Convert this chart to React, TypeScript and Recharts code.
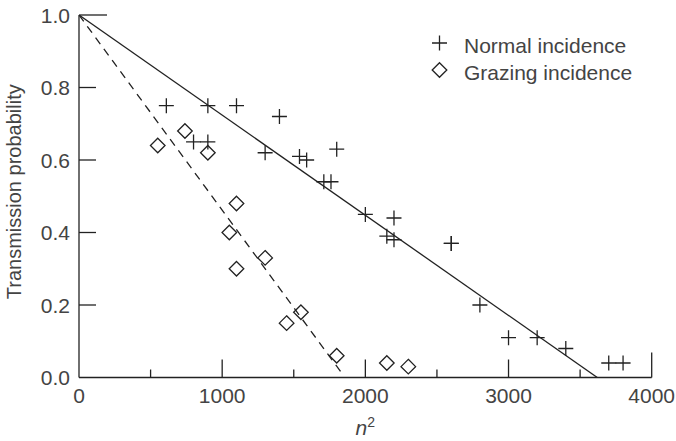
import React from 'react';
import { ScatterChart, Scatter, XAxis, YAxis, Legend } from 'recharts';

// Measured transmission probability against n^2
const normalIncidence = [
  { x: 610, y: 0.75 },
  { x: 900, y: 0.75 },
  { x: 1100, y: 0.75 },
  { x: 1400, y: 0.72 },
  { x: 800, y: 0.65 },
  { x: 900, y: 0.65 },
  { x: 1300, y: 0.62 },
  { x: 1540, y: 0.61 },
  { x: 1590, y: 0.6 },
  { x: 1800, y: 0.63 },
  { x: 1710, y: 0.54 },
  { x: 1760, y: 0.54 },
  { x: 2000, y: 0.45 },
  { x: 2200, y: 0.44 },
  { x: 2150, y: 0.39 },
  { x: 2200, y: 0.38 },
  { x: 2600, y: 0.37 },
  { x: 2600, y: 0.37 },
  { x: 2800, y: 0.2 },
  { x: 3000, y: 0.11 },
  { x: 3200, y: 0.11 },
  { x: 3400, y: 0.08 },
  { x: 3700, y: 0.04 },
  { x: 3800, y: 0.04 },
];

const grazingIncidence = [
  { x: 550, y: 0.64 },
  { x: 740, y: 0.68 },
  { x: 900, y: 0.62 },
  { x: 1100, y: 0.48 },
  { x: 1050, y: 0.4 },
  { x: 1100, y: 0.3 },
  { x: 1300, y: 0.33 },
  { x: 1550, y: 0.18 },
  { x: 1450, y: 0.15 },
  { x: 1800, y: 0.06 },
  { x: 2150, y: 0.04 },
  { x: 2300, y: 0.03 },
];

// Straight-line fits through (0, 1)
const normalFit = [
  { x: 0, y: 1 },
  { x: 3620, y: 0 },
];
const grazingFit = [
  { x: 0, y: 1 },
  { x: 1830, y: 0.015 },
];

const xTicks = [0, 500, 1000, 1500, 2000, 2500, 3000, 3500, 4000];
const yTicks = [0, 0.2, 0.4, 0.6, 0.8, 1.0];
const legendLabels = ['Normal incidence', 'Grazing incidence'];

const INK = '#222';
const TEXT = '#444';
const FONT = '"Liberation Sans", Arial, Helvetica, sans-serif';

const XTick = (props: any) => {
  const { x, y, payload } = props;
  const v = payload.value;
  const len = v === 4000 ? 25 : v % 1000 === 0 ? 18 : 8;
  return (
    <g>
      {v !== 0 && <line x1={x} x2={x} y1={y} y2={y - len} stroke={INK} strokeWidth={1.3} />}
      {v % 1000 === 0 && (
        <text x={x} y={y + 25.5} textAnchor="middle" fontSize={21} fill={TEXT} fontFamily={FONT}>
          {v}
        </text>
      )}
    </g>
  );
};

const YTick = (props: any) => {
  const { x, y, payload } = props;
  const v = payload.value;
  const len = v === 1 ? 28 : 17;
  return (
    <g>
      {v !== 0 && <line x1={x} x2={x + len} y1={y} y2={y} stroke={INK} strokeWidth={1.3} />}
      <text x={x - 9} y={y} dy="0.36em" textAnchor="end" fontSize={21} fill={TEXT} fontFamily={FONT}>
        {v.toFixed(1)}
      </text>
    </g>
  );
};

const XLabel = (props: any) => {
  const { viewBox } = props;
  const cx = viewBox.x + viewBox.width / 2;
  return (
    <text x={cx} y={viewBox.y + 57.5} textAnchor="middle" fontSize={21} fill={TEXT} fontFamily={FONT}>
      <tspan fontStyle="italic">n</tspan>
      <tspan dy={-8} fontSize={14}>2</tspan>
    </text>
  );
};

const YLabel = (props: any) => {
  const { viewBox } = props;
  const lx = 21;
  const ly = viewBox.y + viewBox.height / 2 - 4.5;
  return (
    <text
      x={lx}
      y={ly}
      transform={`rotate(-90, ${lx}, ${ly})`}
      textAnchor="middle"
      fontSize={20}
      fill={TEXT}
      fontFamily={FONT}
    >
      Transmission probability
    </text>
  );
};

const PlusMark = (p: any) => (
  <path
    d={`M${p.cx - 7.5},${p.cy}H${p.cx + 7.5}M${p.cx},${p.cy - 7.5}V${p.cy + 7.5}`}
    stroke={INK}
    strokeWidth={1.3}
    fill="none"
  />
);

const DiamondMark = (p: any) => (
  <path
    d={`M${p.cx},${p.cy - 7.3}L${p.cx + 7.3},${p.cy}L${p.cx},${p.cy + 7.3}L${p.cx - 7.3},${p.cy}Z`}
    stroke={INK}
    strokeWidth={1.3}
    fill="none"
  />
);

const NoMark = () => <g />;

const LegendBox = () => (
  <svg width={240} height={64} style={{ display: 'block' }}>
    <path d="M12,18H27M19.5,10.5V25.5" stroke={INK} strokeWidth={1.3} fill="none" />
    <text x={44} y={28.3} fontSize={21} fill={TEXT} fontFamily={FONT}>
      {legendLabels[0]}
    </text>
    <path d="M19.5,37.7L26.8,45L19.5,52.3L12.2,45Z" stroke={INK} strokeWidth={1.3} fill="none" />
    <text x={44} y={55} fontSize={21} fill={TEXT} fontFamily={FONT}>
      {legendLabels[1]}
    </text>
  </svg>
);

export default function App() {
  return (
    <div style={{ position: 'absolute', left: 0, top: 0, width: 676, height: 441, background: '#fff' }}>
      <ScatterChart width={676} height={441} margin={{ top: 15, right: 24.3, bottom: 0, left: 0 }}>
        <XAxis
          type="number"
          dataKey="x"
          domain={[0, 4000]}
          ticks={xTicks}
          interval={0}
          tickSize={0}
          tickMargin={0}
          tickLine={false}
          tick={<XTick />}
          height={63.5}
          axisLine={{ stroke: INK, strokeWidth: 1.3 }}
          label={XLabel}
          allowDataOverflow
        />
        <YAxis
          type="number"
          dataKey="y"
          domain={[0, 1]}
          ticks={yTicks}
          interval={0}
          tickSize={0}
          tickMargin={0}
          tickLine={false}
          tick={<YTick />}
          width={79}
          axisLine={{ stroke: INK, strokeWidth: 1.3 }}
          label={YLabel}
          allowDataOverflow
        />
        <Legend
          layout="vertical"
          align="center"
          verticalAlign="middle"
          content={<LegendBox />}
          wrapperStyle={{ left: 420, top: 25, width: 240, height: 64 }}
        />
        <Scatter
          data={normalFit}
          line={{ stroke: INK, strokeWidth: 1.3 }}
          shape={<NoMark />}
          legendType="none"
          isAnimationActive={false}
        />
        <Scatter
          data={grazingFit}
          line={{ stroke: INK, strokeWidth: 1.3, strokeDasharray: '8 6' }}
          shape={<NoMark />}
          legendType="none"
          isAnimationActive={false}
        />
        <Scatter
          name={legendLabels[0]}
          data={normalIncidence}
          shape={<PlusMark />}
          isAnimationActive={false}
        />
        <Scatter
          name={legendLabels[1]}
          data={grazingIncidence}
          shape={<DiamondMark />}
          isAnimationActive={false}
        />
      </ScatterChart>
    </div>
  );
}
